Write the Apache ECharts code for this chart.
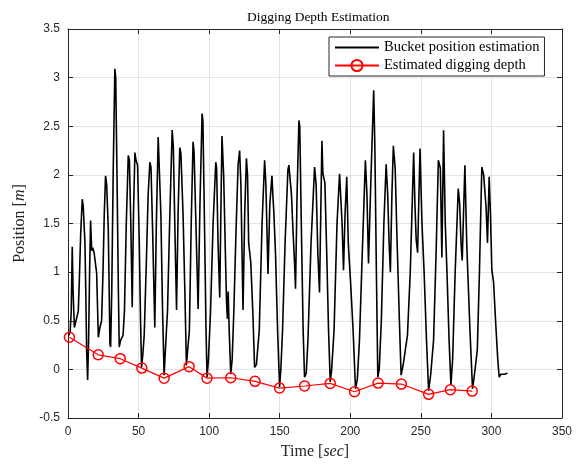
<!DOCTYPE html>
<html>
<head>
<meta charset="utf-8">
<script src="https://cdn.jsdelivr.net/npm/echarts/dist/echarts.min.js"></script>
<style>
  html, body { margin: 0; padding: 0; background: #fff; }
  #chart { width: 582px; height: 466px; }
</style>
</head>
<body>
<div id="chart"></div>
<script>
// bucket position estimation (time in sec, position in m)
const bucketTime = [
  0.5, 1.5, 2.3, 3.0, 3.6, 4.5, 5.5, 6.5, 7.3, 8.0, 9.0, 10.1, 10.8, 11.5, 12.0, 12.6, 13.2, 13.9,
  14.6, 15.3, 16.0, 16.8, 17.5, 18.5, 19.6, 20.3, 21.0, 21.5, 22.6, 23.8, 24.8, 25.7, 26.6, 27.4,
  28.5, 29.2, 29.7, 30.2, 31.0, 32.0, 33.2, 33.8, 34.8, 35.7, 36.3, 37.3, 39.0, 40.0, 41.3, 42.7,
  43.5, 44.5, 45.5, 46.4, 47.4, 48.2, 49.3, 50.5, 51.4, 52.1, 53.0, 54.0, 55.5, 56.8, 58.0, 58.8,
  60.0, 61.5, 62.6, 63.9, 64.7, 65.8, 67.0, 68.1, 69.0, 70.5, 72.0, 73.8, 74.6, 75.8, 76.9, 78.0,
  79.2, 80.0, 81.5, 82.8, 83.9, 84.8, 86.0, 87.3, 88.6, 89.3, 90.8, 92.2, 93.5, 95.0, 95.6, 96.8,
  97.8, 98.5, 99.5, 101.0, 102.8, 104.7, 105.3, 106.3, 107.5, 108.3, 109.1, 110.3, 111.5, 112.3,
  112.9, 113.5, 114.2, 115.3, 116.3, 117.5, 119.0, 120.5, 121.6, 122.5, 123.3, 124.0, 125.2, 126.4,
  127.2, 128.0, 129.5, 131.0, 132.2, 133.5, 135.5, 137.5, 139.3, 140.2, 141.7, 143.0, 144.5, 145.3,
  145.8, 147.0, 148.5, 149.9, 150.8, 152.0, 153.8, 155.8, 156.5, 157.4, 158.3, 159.5, 160.5, 161.2,
  162.3, 163.6, 164.2, 165.3, 166.6, 167.6, 168.8, 170.0, 172.2, 174.7, 175.8, 177.0, 178.2, 179.9,
  180.6, 182.0, 183.3, 184.6, 185.8, 186.8, 188.5, 190.6, 192.4, 193.2, 194.2, 195.2, 196.3, 197.5,
  198.6, 200.2, 202.0, 203.7, 205.0, 206.5, 208.5, 210.7, 211.8, 212.9, 214.7, 216.6, 217.4, 218.5,
  219.5, 220.5, 222.0, 223.8, 225.4, 226.5, 227.5, 228.4, 229.5, 230.5, 231.8, 233.0, 234.8, 236.0,
  237.5, 239.0, 240.5, 242.5, 244.9, 245.8, 246.7, 247.7, 249.4, 250.8, 252.3, 254.0, 255.5, 257.0,
  259.0, 260.8, 262.4, 263.8, 264.9, 266.1, 267.3, 268.5, 270.0, 271.3, 272.5, 274.3, 276.5, 277.5,
  278.5, 279.3, 281.2, 282.5, 283.2, 284.8, 286.6, 288.0, 290.0, 291.5, 293.2, 294.5, 296.2, 297.2,
  298.4, 299.3, 300.3, 301.5, 303.2, 304.5, 305.5, 306.7, 309.0, 311.4
];
const bucketPos = [
  0.35, 0.38, 0.6, 1.26, 0.8, 0.43, 0.45, 0.55, 0.6, 0.9, 1.4, 1.75, 1.68, 1.45, 1.31, 0.8, 0.2, -0.11,
  0.3, 1.0, 1.53, 1.22, 1.25, 1.2, 1.19, 0.99, 0.6, 0.33, 0.43, 0.5, 1.0, 1.6, 1.99, 1.9,
  1.46, 0.8, 0.26, 0.23, 0.8, 2.0, 3.09, 3.0, 1.9, 0.8, 0.23, 0.3, 0.35, 0.6, 1.5, 2.2,
  2.15, 1.5, 0.64, 1.6, 2.23, 2.15, 2.1, 1.3, 0.5, 0.02, 0.15, 0.35, 1.1, 1.8, 2.13, 2.08,
  1.4, 0.43, 1.5, 2.39, 2.37, 1.6, 0.6, -0.06, 0.2, 0.6, 1.5, 2.46, 2.3, 1.4, 0.61, 1.6,
  2.28, 2.22, 1.6, 0.8, 0.04, 0.2, 0.4, 1.5, 2.34, 2.24, 1.4, 0.62, 1.7, 2.63, 2.55, 1.4,
  0.4, -0.08, 0.1, 0.6, 1.5, 2.13, 2.07, 1.3, 0.74, 1.6, 2.4, 1.99, 1.2, 0.7,
  0.52, 0.8, 0.4, -0.05, 0.1, 0.6, 1.4, 2.1, 2.25, 1.9, 1.2, 0.61, 1.6, 2.17,
  2.0, 1.3, 1.1, 0.57, 0.02, 0.05, 0.4, 1.5, 2.15, 1.9, 0.98, 1.7, 1.99, 1.75,
  1.63, 1.2, 0.4, -0.18, 0.0, 0.4, 1.3, 2.05, 2.1, 2.1, 1.8, 1.4, 1.1, 0.83,
  1.8, 2.56, 2.5, 1.5, 0.4, -0.08, -0.04, 0.3, 1.3, 2.08, 1.9, 1.2, 0.79, 2.35,
  2.01, 1.92, 1.2, 0.4, -0.13, 0.0, 0.4, 1.5, 2.01, 2.03, 1.5, 1.02, 1.6, 1.98,
  1.29, 0.9, 0.4, -0.2, -0.1, 0.3, 1.2, 2.15, 1.8, 1.09, 2.0, 2.87, 2.3, 1.0,
  -0.08, 0.0, 0.5, 1.5, 2.11, 1.8, 1.3, 1.0, 1.8, 2.3, 2.07, 1.4, 0.5, -0.06,
  0.05, 0.2, 0.35, 1.0, 2.23, 1.7, 1.33, 1.2, 2.27, 1.5, 1.0, 0.3, -0.22, -0.05,
  0.3, 1.2, 2.15, 2.07, 1.15, 2.46, 1.5, 1.0, 0.3, -0.16, 0.1, 1.0, 1.86, 1.7,
  1.29, 1.12, 2.1, 1.3, 1.02, 0.4, -0.2, -0.05, 0.2, 1.0, 2.08, 2.0, 1.67, 1.3,
  1.98, 1.6, 1.02, 0.9, 0.43, 0.1, -0.08, -0.05, -0.05, -0.04
];

// estimated digging depth
const depthTime = [1, 21.4, 37, 52.3, 68.1, 85.8, 98.5, 115.3, 132.5, 149.9, 167.6, 185.8, 203, 219.7, 236.2, 255.5, 270.9, 286.4];
const depthVal = [0.33, 0.15, 0.11, 0.013, -0.09, 0.028, -0.09, -0.086, -0.123, -0.192, -0.171, -0.144, -0.23, -0.141, -0.151, -0.257, -0.209, -0.223];

const xTicks = { min: 0, max: 350, interval: 50 };
const yTicks = { min: -0.5, max: 3.5, interval: 0.5 };

const axisColor = '#262626';
const serif = '"Liberation Serif", "DejaVu Serif", serif';
const sans = '"Liberation Sans", Arial, sans-serif';

const chart = echarts.init(document.getElementById('chart'));

function frameAxis(pos, ticks, showLabel) {
  return {
    type: 'value',
    position: pos,
    ...ticks,
    axisLine: { show: true, onZero: false, lineStyle: { color: axisColor, width: 1 } },
    axisTick: { show: true, inside: true, length: 5, lineStyle: { color: axisColor } },
    axisLabel: { show: showLabel, color: axisColor, fontFamily: sans, fontSize: 12 },
    splitLine: { show: showLabel, lineStyle: { color: '#e3e3e3', width: 1 } },
  };
}

const nameStyle = {
  fontFamily: serif, fontSize: 16, color: axisColor,
  rich: { i: { fontFamily: serif, fontSize: 16, fontStyle: 'italic', color: axisColor } },
};

chart.setOption({
  animation: false,
  backgroundColor: '#fff',
  title: {
    text: 'Digging Depth Estimation',
    left: 242,
    top: 5,
    textStyle: { fontFamily: serif, fontSize: 13.5, fontWeight: 'normal', color: '#000' },
  },
  grid: { left: 68, right: 20, top: 29, bottom: 48, containLabel: false },
  legend: {
    orient: 'vertical',
    left: 329,
    top: 37,
    padding: [3, 5, 3, 5],
    itemGap: 3,
    itemWidth: 44,
    itemHeight: 14,
    backgroundColor: '#fff',
    borderColor: axisColor,
    borderWidth: 1,
    borderRadius: 0,
    textStyle: { fontFamily: serif, fontSize: 14.5, color: '#000' },
    data: [
      { name: 'Bucket position estimation', itemStyle: { color: 'rgba(0,0,0,0)', borderColor: 'rgba(0,0,0,0)', borderWidth: 0 } },
      { name: 'Estimated digging depth' },
    ],
  },
  xAxis: [
    {
      ...frameAxis('bottom', xTicks, true),
      axisLabel: { color: axisColor, fontFamily: sans, fontSize: 12, margin: 8 },
      name: 'Time [{i|sec}]',
      nameLocation: 'middle',
      nameGap: 26,
      nameTextStyle: nameStyle,
    },
    frameAxis('top', xTicks, false),
  ],
  yAxis: [
    {
      ...frameAxis('left', yTicks, true),
      axisLabel: { color: axisColor, fontFamily: sans, fontSize: 12, margin: 8 },
      name: 'Position [{i|m}]',
      nameLocation: 'middle',
      nameGap: 40,
      nameTextStyle: nameStyle,
    },
    frameAxis('right', yTicks, false),
  ],
  series: [
    {
      name: 'Bucket position estimation',
      type: 'line',
      symbol: 'none',
      data: bucketTime.map((t, i) => [t, bucketPos[i]]),
      lineStyle: { color: '#000', width: 1.6 },
      itemStyle: { color: '#000' },
    },
    {
      name: 'Estimated digging depth',
      type: 'line',
      symbol: 'circle',
      symbolSize: 10,
      data: depthTime.map((t, i) => [t, depthVal[i]]),
      lineStyle: { color: '#ff0000', width: 1.2 },
      itemStyle: { color: 'rgba(0,0,0,0)', borderColor: '#ff0000', borderWidth: 1.5 },
      z: 3,
    },
  ],
});
</script>
</body>
</html>
